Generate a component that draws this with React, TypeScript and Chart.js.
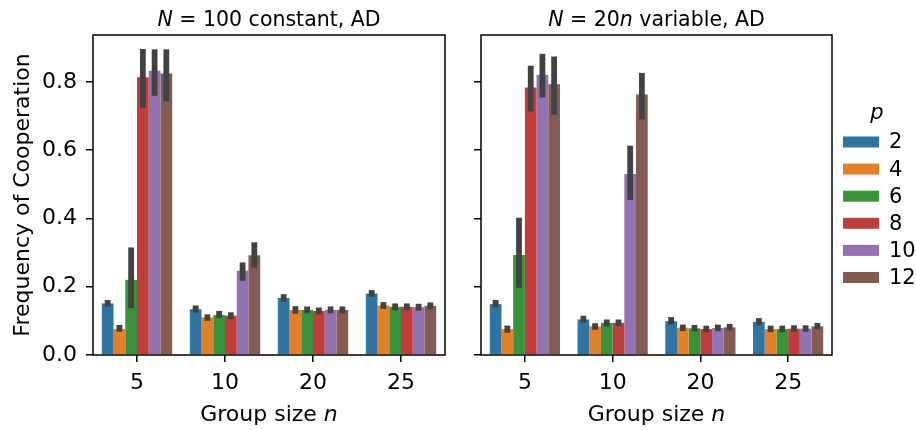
import React, { useEffect, useRef } from 'react';
import { Chart, registerables } from 'chart.js';

Chart.register(...registerables);

const groupSizes = ['5', '10', '20', '25'];
const pValues = ['2', '4', '6', '8', '10', '12'];
const barColors = ['#3274a1', '#e1812c', '#3a923a', '#c03d3e', '#9372b2', '#845b53'];
const yTicks = [0, 0.2, 0.4, 0.6, 0.8];
const yMax = 0.937;

// Left panel: N = 100 constant (rows: p, cols: n)
const constMean = [
  [0.151, 0.134, 0.167, 0.180],
  [0.076, 0.110, 0.132, 0.145],
  [0.220, 0.117, 0.132, 0.141],
  [0.813, 0.115, 0.129, 0.141],
  [0.832, 0.247, 0.132, 0.140],
  [0.824, 0.292, 0.132, 0.144],
];
const constLow = [
  [0.142, 0.124, 0.156, 0.170],
  [0.068, 0.100, 0.121, 0.135],
  [0.137, 0.108, 0.122, 0.131],
  [0.724, 0.105, 0.119, 0.131],
  [0.759, 0.217, 0.122, 0.130],
  [0.743, 0.256, 0.122, 0.134],
];
const constHigh = [
  [0.161, 0.145, 0.178, 0.190],
  [0.088, 0.119, 0.143, 0.155],
  [0.315, 0.129, 0.142, 0.151],
  [0.896, 0.125, 0.139, 0.151],
  [0.895, 0.271, 0.142, 0.150],
  [0.895, 0.330, 0.142, 0.154],
];

// Right panel: N = 20n variable
const varMean = [
  [0.149, 0.104, 0.099, 0.097],
  [0.076, 0.084, 0.080, 0.076],
  [0.293, 0.094, 0.078, 0.076],
  [0.783, 0.094, 0.076, 0.077],
  [0.820, 0.530, 0.079, 0.077],
  [0.793, 0.763, 0.081, 0.084],
];
const varLow = [
  [0.140, 0.095, 0.089, 0.087],
  [0.065, 0.074, 0.070, 0.067],
  [0.197, 0.084, 0.069, 0.067],
  [0.713, 0.084, 0.067, 0.068],
  [0.754, 0.454, 0.070, 0.068],
  [0.704, 0.690, 0.072, 0.075],
];
const varHigh = [
  [0.161, 0.115, 0.111, 0.108],
  [0.086, 0.093, 0.089, 0.086],
  [0.402, 0.104, 0.088, 0.086],
  [0.847, 0.104, 0.086, 0.087],
  [0.882, 0.613, 0.089, 0.087],
  [0.874, 0.826, 0.091, 0.094],
];

const FONT = '"DejaVu Sans", sans-serif';
const FS = 22;
const TITLE_FS = 20.5;
const LEGEND_FS = 21;

type Part = { t: string; i?: boolean };

function drawRich(ctx: CanvasRenderingContext2D, parts: Part[], cx: number, y: number, size: number) {
  ctx.save();
  ctx.fillStyle = '#000';
  ctx.textBaseline = 'alphabetic';
  ctx.textAlign = 'left';
  let total = 0;
  const widths = parts.map((p) => {
    ctx.font = `${p.i ? 'italic ' : ''}${size}px ${FONT}`;
    const w = ctx.measureText(p.t).width;
    total += w;
    return w;
  });
  let x = cx - total / 2;
  parts.forEach((p, k) => {
    ctx.font = `${p.i ? 'italic ' : ''}${size}px ${FONT}`;
    ctx.fillText(p.t, x, y);
    x += widths[k];
  });
  ctx.restore();
}

const errorBarPlugin = {
  id: 'errorBars',
  afterDatasetsDraw(chart: any) {
    const ctx = chart.ctx;
    const y = chart.scales.y;
    ctx.save();
    ctx.strokeStyle = '#424242';
    ctx.lineWidth = 5.8;
    ctx.lineCap = 'butt';
    chart.data.datasets.forEach((ds: any, i: number) => {
      const meta = chart.getDatasetMeta(i);
      meta.data.forEach((bar: any, j: number) => {
        ctx.beginPath();
        ctx.moveTo(bar.x, y.getPixelForValue(ds.errLow[j]));
        ctx.lineTo(bar.x, y.getPixelForValue(ds.errHigh[j]));
        ctx.stroke();
      });
    });
    ctx.restore();
  },
};

function makeDecor(title: Part[], showYLabel: boolean, showLegend: boolean) {
  return {
    id: 'decor',
    afterDraw(chart: any) {
      const ctx = chart.ctx as CanvasRenderingContext2D;
      const a = chart.chartArea;
      ctx.save();
      ctx.strokeStyle = '#000';
      ctx.lineWidth = 1.5;
      ctx.strokeRect(a.left, a.top, a.right - a.left, a.bottom - a.top);
      ctx.restore();
      const cx = (a.left + a.right) / 2;
      drawRich(ctx, title, cx, 26, TITLE_FS);
      drawRich(ctx, [{ t: 'Group size ' }, { t: 'n', i: true }], cx, 421, FS);
      if (showYLabel) {
        ctx.save();
        ctx.translate(29, (a.top + a.bottom) / 2);
        ctx.rotate(-Math.PI / 2);
        drawRich(ctx, [{ t: 'Frequency of Cooperation' }], 0, 0, FS);
        ctx.restore();
      }
      if (showLegend) {
        drawRich(ctx, [{ t: 'p', i: true }], 877, 119, LEGEND_FS);
        ctx.save();
        pValues.forEach((p, k) => {
          const cy = 142 + k * 27.1;
          ctx.fillStyle = barColors[k];
          ctx.fillRect(843, cy - 5.5, 36, 11);
          ctx.fillStyle = '#000';
          ctx.font = `${LEGEND_FS}px ${FONT}`;
          ctx.textBaseline = 'middle';
          ctx.textAlign = 'left';
          ctx.fillText(p, 889, cy + 1);
        });
        ctx.restore();
      }
    },
  };
}

function buildChart(
  canvas: HTMLCanvasElement,
  mean: number[][],
  low: number[][],
  high: number[][],
  padLeft: number,
  padRight: number,
  yWidth: number,
  showYTicks: boolean,
  title: Part[],
  showYLabel: boolean,
  showLegend: boolean
) {
  return new Chart(canvas, {
    type: 'bar',
    data: {
      labels: groupSizes,
      datasets: pValues.map((p, k) => ({
        label: p,
        data: mean[k],
        errLow: low[k],
        errHigh: high[k],
        backgroundColor: barColors[k],
        borderWidth: 0,
        categoryPercentage: 0.8,
        barPercentage: 1.0,
      })) as any,
    },
    options: {
      animation: false,
      responsive: false,
      devicePixelRatio: 1,
      layout: { padding: { left: padLeft, right: padRight, top: 35, bottom: 0 } },
      plugins: { legend: { display: false }, tooltip: { enabled: false }, title: { display: false } },
      scales: {
        x: {
          type: 'category',
          offset: true,
          grid: { offset: false, drawOnChartArea: false, drawTicks: true, tickLength: 7, color: '#000', lineWidth: 1.5 },
          border: { display: false },
          ticks: { font: { size: FS, family: FONT }, color: '#000', padding: 8, maxRotation: 0 },
          afterFit: (scale: any) => {
            scale.height = 75;
          },
        },
        y: {
          type: 'linear',
          min: 0,
          max: yMax,
          grid: { drawOnChartArea: false, drawTicks: true, tickLength: 7, color: '#000', lineWidth: 1.5 },
          border: { display: false },
          ticks: {
            display: showYTicks,
            font: { size: FS, family: FONT },
            color: '#000',
            padding: 9,
            callback: (v: any) => Number(v).toFixed(1),
          },
          afterBuildTicks: (scale: any) => {
            scale.ticks = yTicks.map((v) => ({ value: v }));
          },
          afterFit: (scale: any) => {
            scale.width = yWidth;
          },
        },
      },
    } as any,
    plugins: [errorBarPlugin, makeDecor(title, showYLabel, showLegend)],
  });
}

export default function App() {
  const leftRef = useRef<HTMLCanvasElement>(null);
  const rightRef = useRef<HTMLCanvasElement>(null);

  useEffect(() => {
    document.body.style.margin = '0';
    const c1 = buildChart(
      leftRef.current!,
      constMean,
      constLow,
      constHigh,
      0,
      916 - 445,
      93,
      true,
      [{ t: 'N', i: true }, { t: ' = 100 constant, AD' }],
      true,
      false
    );
    const c2 = buildChart(
      rightRef.current!,
      varMean,
      varLow,
      varHigh,
      0,
      916 - 832,
      481,
      false,
      [{ t: 'N', i: true }, { t: ' = 20' }, { t: 'n', i: true }, { t: ' variable, AD' }],
      false,
      true
    );
    return () => {
      c1.destroy();
      c2.destroy();
    };
  }, []);

  return (
    <div style={{ position: 'absolute', left: 0, top: 0, width: 916, height: 430, background: '#fff' }}>
      <canvas ref={leftRef} width={916} height={430} style={{ position: 'absolute', left: 0, top: 0, width: 916, height: 430 }} />
      <canvas ref={rightRef} width={916} height={430} style={{ position: 'absolute', left: 0, top: 0, width: 916, height: 430 }} />
    </div>
  );
}
